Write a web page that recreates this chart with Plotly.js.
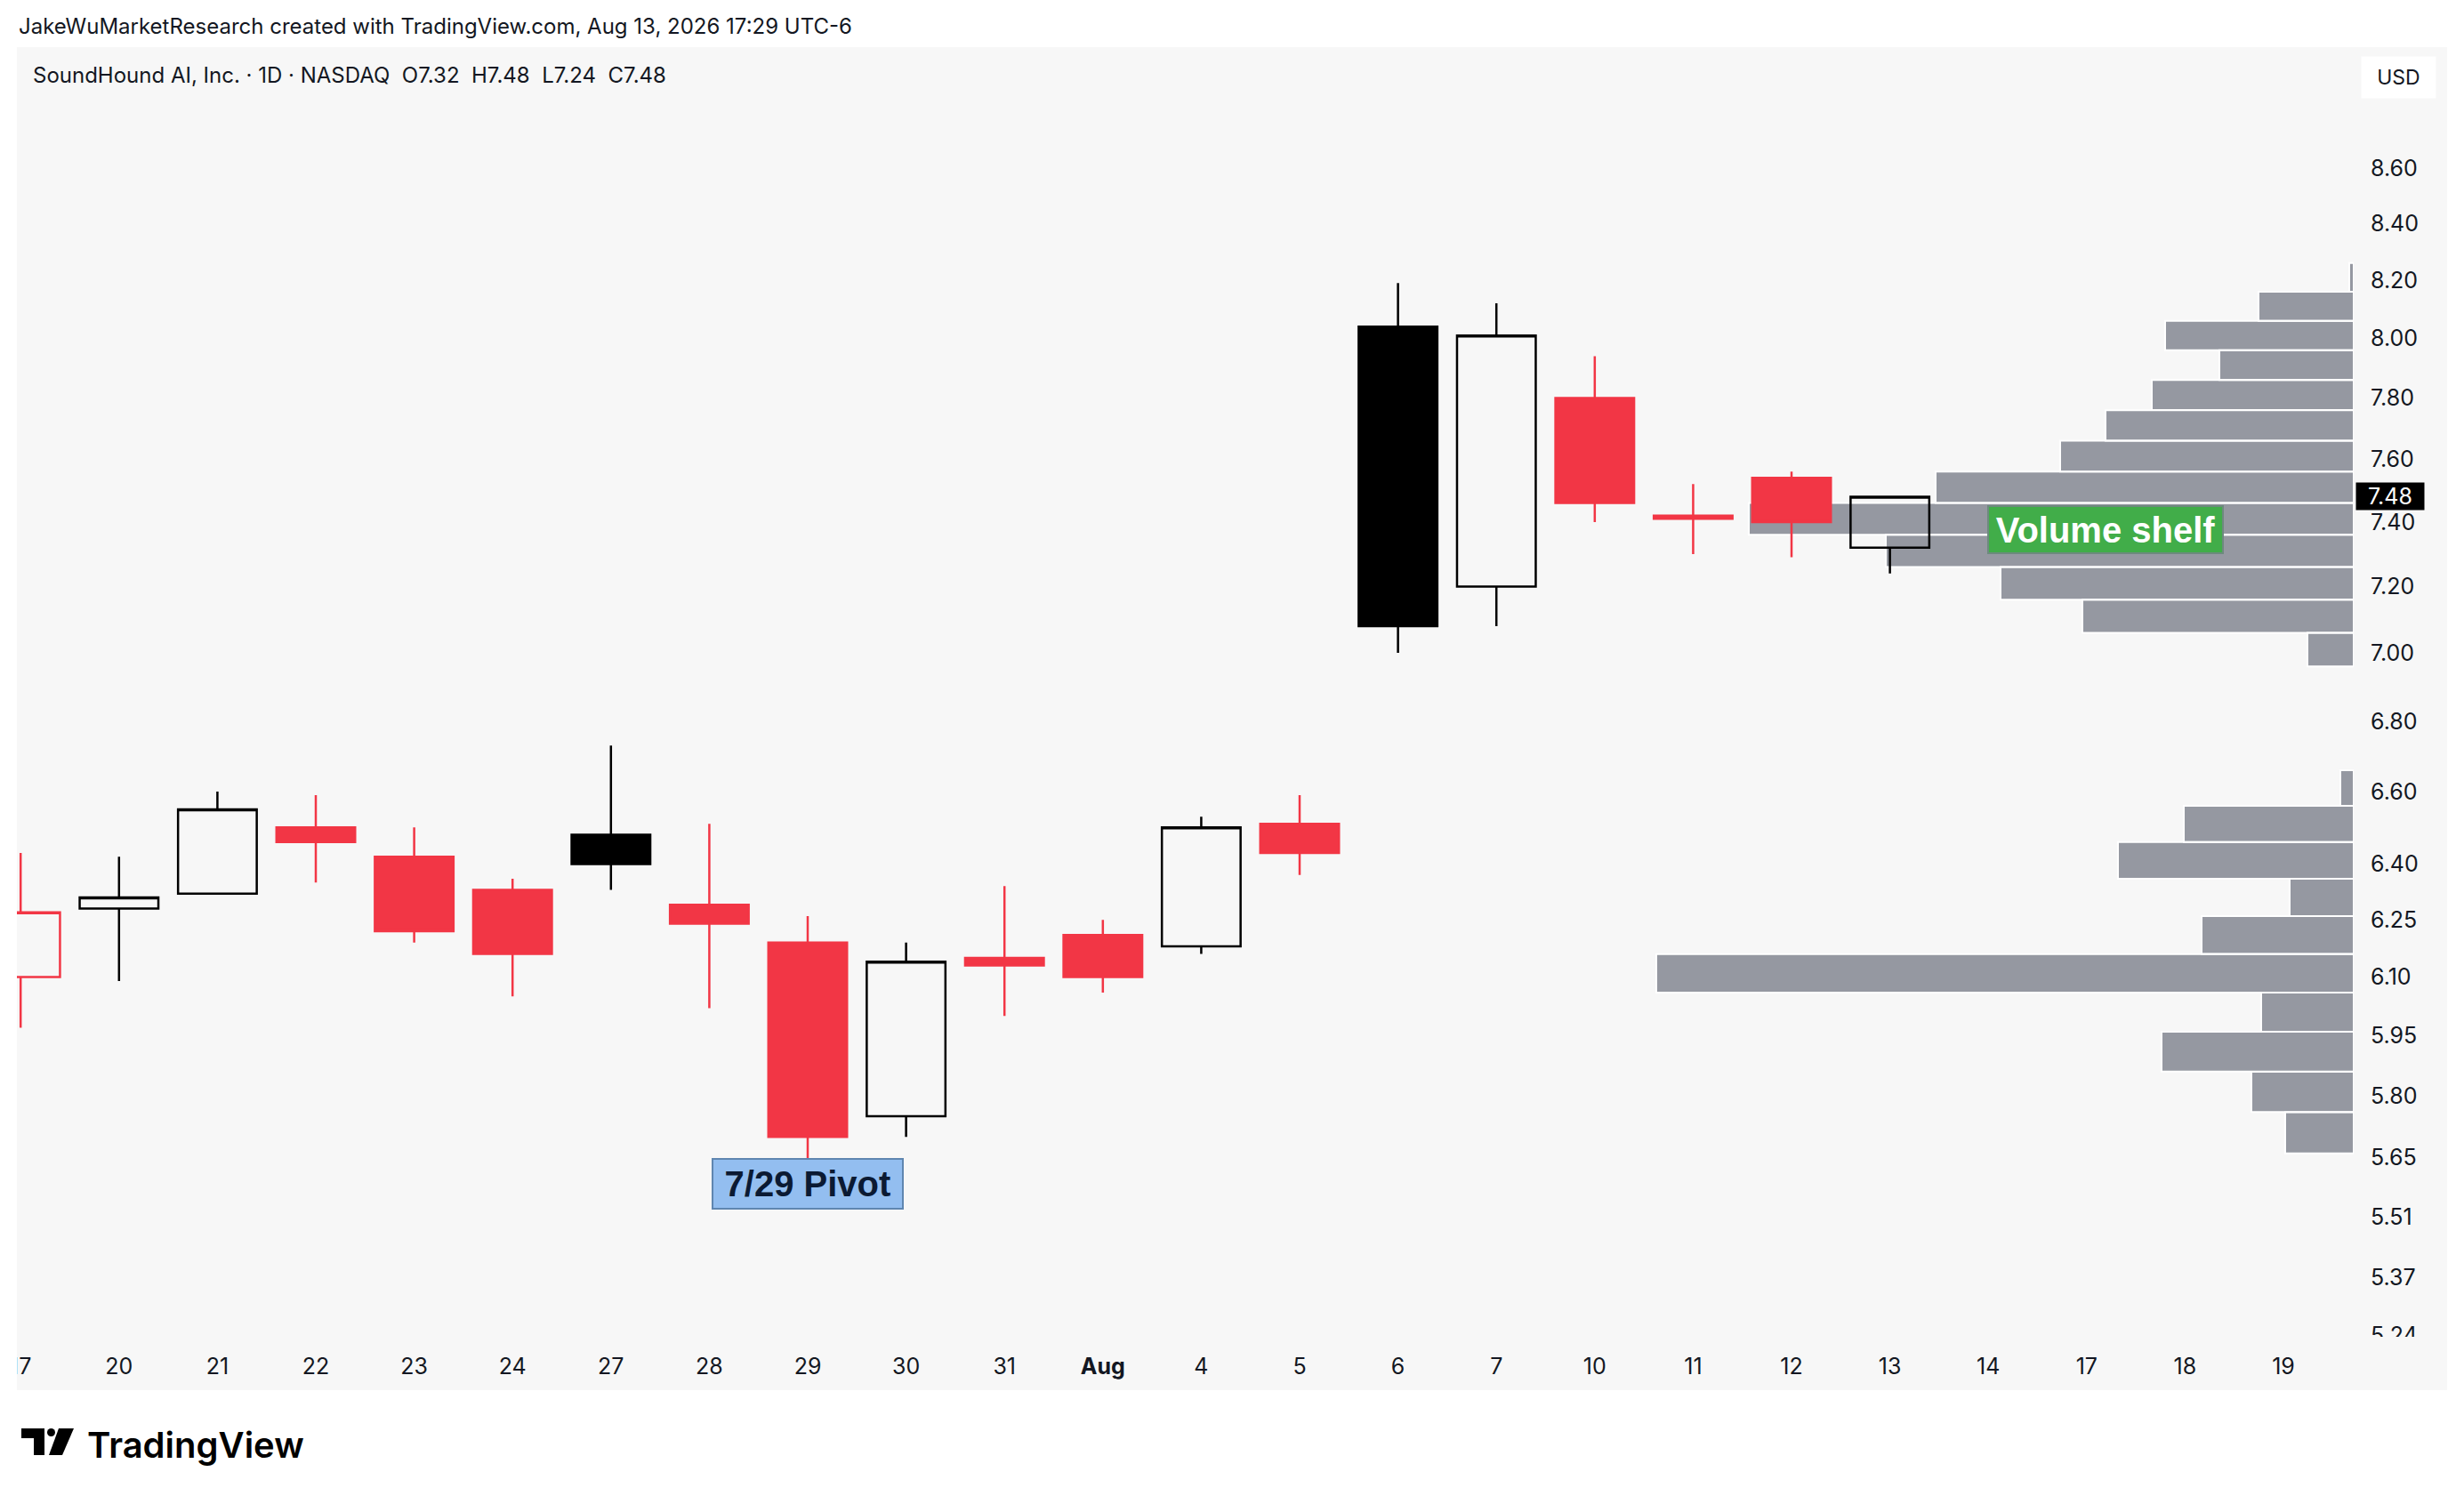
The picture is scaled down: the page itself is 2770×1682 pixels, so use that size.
<!DOCTYPE html>
<html>
<head>
<meta charset="utf-8">
<script src="https://cdn.plot.ly/plotly-3.0.1.min.js"></script>
<style>
  html, body { margin: 0; padding: 0; background: #ffffff; }
  #chart { width: 2770px; height: 1682px; }
</style>
</head>
<body>
<div id="chart"></div>
<script>
// ---------------- data ----------------
const dates = ["2026-07-17","2026-07-20","2026-07-21","2026-07-22","2026-07-23","2026-07-24",
               "2026-07-27","2026-07-28","2026-07-29","2026-07-30","2026-07-31","2026-08-03",
               "2026-08-04","2026-08-05","2026-08-06","2026-08-07","2026-08-10","2026-08-11",
               "2026-08-12","2026-08-13"];
const openP  = [6.10, 6.28, 6.32, 6.50, 6.42, 6.33, 6.48, 6.29, 6.19, 5.75, 6.15, 6.21, 6.18, 6.51, 8.04, 7.20, 7.80, 7.42, 7.54, 7.32];
const highP  = [6.43, 6.42, 6.60, 6.59, 6.50, 6.36, 6.73, 6.51, 6.26, 6.19, 6.34, 6.25, 6.53, 6.59, 8.19, 8.12, 7.94, 7.52, 7.56, 7.48];
const lowP   = [5.97, 6.09, 6.32, 6.35, 6.19, 6.05, 6.33, 6.02, 5.64, 5.70, 6.00, 6.06, 6.16, 6.37, 7.00, 7.08, 7.40, 7.30, 7.29, 7.24];
const closeP = [6.27, 6.31, 6.55, 6.46, 6.22, 6.16, 6.40, 6.24, 5.70, 6.14, 6.13, 6.10, 6.50, 6.43, 7.08, 8.01, 7.46, 7.41, 7.40, 7.48];
// close of the session before the first visible one (off-chart; implied by the red hollow first candle)
const priorClose = 6.35;

// future sessions shown on the time axis (no candles)
const futureDates = ["2026-08-14","2026-08-17","2026-08-18","2026-08-19"];
const timeTickLabels = ["17","20","21","22","23","24","27","28","29","30","31","<b>Aug</b>",
                        "4","5","6","7","10","11","12","13","14","17","18","19"];

// price scale ticks
const priceTicks = [5.24, 5.37, 5.51, 5.65, 5.80, 5.95, 6.10, 6.25, 6.40, 6.60,
                    6.80, 7.00, 7.20, 7.40, 7.60, 7.80, 8.00, 8.20, 8.40, 8.60];

// volume profiles (row centre prices, relative volume per row)
const upperRowPrices  = [7.01, 7.11, 7.21, 7.31, 7.41, 7.51, 7.61, 7.71, 7.81, 7.91, 8.01, 8.11, 8.21];
const upperRowVolumes = [52, 305, 397, 526, 680, 470, 330, 279, 227, 151, 212, 107, 5];
const lowerRowPrices  = [5.71, 5.81, 5.91, 6.01, 6.11, 6.21, 6.31, 6.41, 6.51, 6.61];
const lowerRowVolumes = [77, 115, 216, 104, 784, 171, 72, 265, 191, 15];
const rowSize = 0.0998;

const lastPrice = 7.48;
const pivotDate = "2026-07-29";
const shelfPrice = 7.375;

// ---------------- layout geometry ----------------
const FIG_W = 2770, FIG_H = 1682;
const M = { l: 19, r: 124, t: 53, b: 179 };
const PW = FIG_W - M.l - M.r, PH = FIG_H - M.t - M.b;
const px2x = px => (px - M.l) / PW;
const py2y = py => 1 - (py - M.t) / PH;

const RED = "#f23645", BLACK = "#000000", BG = "#f7f7f7", TXT = "#131722";
const FONT = "Inter, 'Liberation Sans', Arial, sans-serif";

// x positions: session index
const allDates = dates.concat(futureDates);
const xIdx = d => allDates.indexOf(d);
const tickIdx = allDates.map((d, i) => i);

// ---------------- traces ----------------
// volume profile lives on the base subplot (x = volume, reversed; y = price)
function profileTrace(prices, vols) {
  const xs = [], ys = [];
  prices.forEach((p, i) => {
    const lo = p - rowSize / 2, hi = p + rowSize / 2;
    xs.push(0, vols[i], vols[i], 0, 0, null);
    ys.push(lo, lo, hi, hi, lo, null);
  });
  return {
    type: "scatter", mode: "lines", x: xs, y: ys, xaxis: "x", yaxis: "y",
    fill: "toself", fillcolor: "#9598a1",
    line: { color: "#ffffff", width: 2 },
    hoverinfo: "skip", showlegend: false
  };
}

const groups = { hollowBlack: [], filledBlack: [], hollowRed: [], filledRed: [] };
dates.forEach((d, i) => {
  const prev = i === 0 ? priorClose : closeP[i - 1];
  const up = closeP[i] >= prev;
  const hollow = closeP[i] > openP[i];
  groups[(hollow ? "hollow" : "filled") + (up ? "Black" : "Red")].push(i);
});

// candles live on the overlay subplot (x2 = session index, y2 = price) so they sit above the profile
function candleTrace(idx, color, fill) {
  const style = { line: { color: color, width: 2.5 }, fillcolor: fill };
  return {
    type: "candlestick", xaxis: "x2", yaxis: "y2",
    x: idx.map(i => xIdx(dates[i])),
    open: idx.map(i => openP[i]), high: idx.map(i => highP[i]),
    low: idx.map(i => lowP[i]), close: idx.map(i => closeP[i]),
    increasing: style, decreasing: style,
    whiskerwidth: 0, hoverinfo: "skip", showlegend: false
  };
}

const traces = [
  profileTrace(upperRowPrices, upperRowVolumes),
  profileTrace(lowerRowPrices, lowerRowVolumes),
  candleTrace(groups.hollowBlack, BLACK, "rgba(0,0,0,0)"),
  candleTrace(groups.filledBlack, BLACK, BLACK),
  candleTrace(groups.hollowRed, RED, "rgba(0,0,0,0)"),
  candleTrace(groups.filledRed, RED, RED)
];

// ---------------- layout ----------------
const yLo = 5.236, yHi = 9.053;
const yRange = [Math.log10(yLo), Math.log10(yHi)];

const logoShapes = [
  { type: "rect", xref: "paper", yref: "paper", x0: px2x(24), x1: px2x(50), y0: py2y(1617), y1: py2y(1606), fillcolor: "#000", line: { width: 0 } },
  { type: "rect", xref: "paper", yref: "paper", x0: px2x(38), x1: px2x(50), y0: py2y(1636), y1: py2y(1606), fillcolor: "#000", line: { width: 0 } },
  { type: "circle", xref: "paper", yref: "paper", x0: px2x(53), x1: px2x(62), y0: py2y(1615), y1: py2y(1606), fillcolor: "#000", line: { width: 0 } },
  { type: "path", xref: "paper", yref: "paper",
    path: `M ${px2x(66)} ${py2y(1606)} L ${px2x(83)} ${py2y(1606)} L ${px2x(70)} ${py2y(1636)} L ${px2x(55)} ${py2y(1636)} Z`,
    fillcolor: "#000", line: { width: 0 } }
];

const layout = {
  width: FIG_W, height: FIG_H,
  margin: M,
  paper_bgcolor: "#ffffff", plot_bgcolor: BG,
  showlegend: false,
  boxgap: 0.2, boxgroupgap: 0, boxmode: "overlay",
  font: { family: FONT, color: TXT },
  xaxis: { range: [PW, 0], visible: false, fixedrange: true, rangeslider: { visible: false } },
  yaxis: {
    type: "log", range: yRange, fixedrange: true,
    side: "right", tickmode: "array", tickvals: priceTicks,
    ticktext: priceTicks.map(v => v.toFixed(2)),
    showgrid: false, zeroline: false, showline: false, ticks: "",
    tickfont: { family: FONT, size: 25, color: TXT },
    ticklabelstandoff: 18
  },
  xaxis2: {
    overlaying: "x", anchor: "y", side: "bottom",
    range: [-0.038, 23.714], fixedrange: true,
    tickmode: "array", tickvals: tickIdx, ticktext: timeTickLabels,
    showgrid: false, zeroline: false, showline: false, ticks: "",
    tickfont: { family: FONT, size: 25, color: TXT },
    ticklabelstandoff: 16,
    rangeslider: { visible: false }
  },
  yaxis2: { overlaying: "y", anchor: "x2", type: "log", range: yRange, visible: false, fixedrange: true },
  shapes: [
    { type: "rect", xref: "paper", yref: "paper", x0: 0, x1: px2x(2751), y0: py2y(1563), y1: 1,
      fillcolor: BG, line: { width: 0 }, layer: "below" },
    { type: "rect", xref: "paper", yref: "paper", x0: 1, x1: px2x(2751), y0: py2y(1563), y1: 0,
      fillcolor: BG, line: { width: 0 }, layer: "above" },
    { type: "rect", xref: "paper", yref: "paper", x0: px2x(0), x1: 0, y0: py2y(1563), y1: 0,
      fillcolor: "#ffffff", line: { width: 0 }, layer: "above" }
  ].concat(logoShapes),
  annotations: [
    { xref: "paper", yref: "paper", x: 0, y: py2y(30), xanchor: "left", yanchor: "middle", showarrow: false,
      text: "JakeWuMarketResearch created with TradingView.com, Aug 13, 2026 17:29 UTC-6",
      font: { family: FONT, size: 24, color: TXT } },
    { xref: "paper", yref: "paper", x: px2x(35), y: py2y(85), xanchor: "left", yanchor: "middle", showarrow: false,
      text: "SoundHound AI, Inc. · 1D · NASDAQ\u00a0\u00a0O7.32\u00a0\u00a0H7.48\u00a0\u00a0L7.24\u00a0\u00a0C7.48",
      font: { family: FONT, size: 24, color: TXT } },
    { xref: "paper", yref: "paper", x: px2x(2696), y: py2y(87), xanchor: "center", yanchor: "middle", showarrow: false,
      text: "USD", bgcolor: "#ffffff", width: 75, height: 38, borderpad: 4,
      font: { family: FONT, size: 23, color: TXT } },
    { xref: "paper", yref: "y", x: 1, xshift: 2, y: Math.log10(lastPrice), xanchor: "left", yanchor: "middle", showarrow: false,
      text: lastPrice.toFixed(2), bgcolor: "#000000", width: 72, height: 26, borderpad: 2,
      font: { family: FONT, size: 25, color: "#ffffff" } },
    { xref: "x2", yref: "y2", x: xIdx(pivotDate), y: Math.log10(lowP[dates.indexOf(pivotDate)]), yshift: 4,
      xanchor: "center", yanchor: "top", showarrow: false,
      text: "<b>7/29 Pivot</b>", bgcolor: "#93bef0", bordercolor: "#5f86b0", borderwidth: 2,
      width: 208, height: 50, borderpad: 2,
      font: { family: "'Liberation Sans', Arial, sans-serif", size: 40, color: "#0b1a33" } },
    { xref: "x2", yref: "y2", x: 21.19, y: Math.log10(shelfPrice),
      xanchor: "center", yanchor: "middle", showarrow: false,
      text: "<b>Volume shelf</b>", bgcolor: "#41ad49", bordercolor: "#6d8a7e", borderwidth: 2,
      width: 258, height: 47, borderpad: 2,
      font: { family: "'Liberation Sans', Arial, sans-serif", size: 40, color: "#ffffff" } },
    { xref: "paper", yref: "paper", x: px2x(96), y: py2y(1624), xanchor: "left", yanchor: "middle", showarrow: false,
      text: "TradingView", font: { family: FONT, size: 40, color: "#000000", weight: 600 } }
  ]
};

Plotly.newPlot("chart", traces, layout, { displayModeBar: false, staticPlot: true });
</script>
</body>
</html>
